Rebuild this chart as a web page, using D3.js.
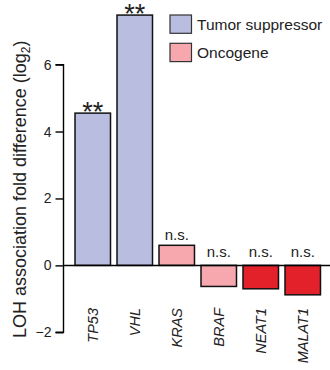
<!DOCTYPE html>
<html>
<head>
<meta charset="utf-8">
<script src="https://cdn.jsdelivr.net/npm/d3@7"></script>
<style>
  html, body { margin: 0; padding: 0; background: #fff; }
  svg { display: block; font-family: "Liberation Sans", Arial, sans-serif; }
</style>
</head>
<body>
<svg id="chart" width="330" height="370"></svg>
<script>
// Genes and their log2 fold difference in LOH association
const genes = ["TP53", "VHL", "KRAS", "BRAF", "NEAT1", "MALAT1"];
const foldDiff = [4.55, 7.48, 0.6, -0.63, -0.70, -0.88];
const geneClass = ["suppressor", "suppressor", "oncogene", "oncogene", "lnc", "lnc"];
const significance = ["**", "**", "n.s.", "n.s.", "n.s.", "n.s."];
const yTicks = [-2, 0, 2, 4, 6];
const legendLabels = ["Tumor suppressor", "Oncogene"];

const fillFor = { suppressor: "#b9bee1", oncogene: "#f6a8ae", lnc: "#e3212b" };
const legendKeys = ["suppressor", "oncogene"];

const svg = d3.select("#chart");

const x = d3.scaleBand()
  .domain(genes)
  .range([68.5, 327])
  .paddingInner(0.155)
  .paddingOuter(0.155);

const y = d3.scaleLinear()
  .domain([-2, 6])
  .range([332.3, 64.6]);

// y axis
const yAxis = d3.axisLeft(y)
  .tickValues(yTicks)
  .tickSize(8)
  .tickPadding(4)
  .tickFormat(d => d < 0 ? "\u2212" + Math.abs(d) : d);

const axisG = svg.append("g")
  .attr("transform", "translate(63.5,0)")
  .call(yAxis);
axisG.select(".domain").attr("stroke", "#000").attr("stroke-width", 1.4)
  .attr("d", `M-8,${y(6)}H0V${y(-2)}H-8`);
axisG.selectAll(".tick line").attr("stroke", "#000").attr("stroke-width", 1.4);
axisG.selectAll(".tick text")
  .attr("fill", "#222")
  .style("font-size", "14px")
  .style("font-family", "Liberation Sans, Arial, sans-serif");

// bars
const data = genes.map((g, i) => ({ gene: g, value: foldDiff[i], cls: geneClass[i], sig: significance[i] }));

svg.append("g").selectAll("rect")
  .data(data)
  .join("rect")
  .attr("x", d => x(d.gene))
  .attr("width", x.bandwidth())
  .attr("y", d => y(Math.max(0, d.value)))
  .attr("height", d => Math.abs(y(d.value) - y(0)))
  .attr("fill", d => fillFor[d.cls])
  .attr("stroke", "#111")
  .attr("stroke-width", 1.5);

// zero line
svg.append("line")
  .attr("x1", 63.5).attr("x2", 330)
  .attr("y1", y(0)).attr("y2", y(0))
  .attr("stroke", "#000").attr("stroke-width", 1.5);

// significance markers
svg.append("g").selectAll("text")
  .data(data)
  .join("text")
  .attr("x", d => x(d.gene) + x.bandwidth() / 2)
  .attr("y", d => d.sig === "**"
    ? y(d.value) + 8
    : (d.value > 0 ? y(d.value) - 5 : y(0) - 8))
  .attr("text-anchor", "middle")
  .attr("fill", "#222")
  .style("font-size", d => d.sig === "**" ? "27px" : "15px")
  .text(d => d.sig);

// gene labels
svg.append("g").selectAll("text")
  .data(data)
  .join("text")
  .attr("transform", d => `translate(${x(d.gene) + x.bandwidth() / 2 + 5},308) rotate(-90)`)
  .attr("text-anchor", "end")
  .attr("fill", "#222")
  .style("font-size", "14.5px")
  .style("font-style", "italic")
  .text(d => d.gene);

// y axis title
const title = svg.append("text")
  .attr("transform", "translate(25.5,338) rotate(-90)")
  .attr("text-anchor", "start")
  .attr("fill", "#222")
  .style("font-size", "18px");
title.append("tspan").text("LOH association fold difference (log");
title.append("tspan").attr("dy", 4).style("font-size", "12px").text("2");
title.append("tspan").attr("dy", -4).text(")");

// legend
const legend = svg.append("g").selectAll("g")
  .data(legendKeys)
  .join("g")
  .attr("transform", (d, i) => `translate(170,${15 + i * 28.3})`);
legend.append("rect")
  .attr("width", 21.5).attr("height", 18.3)
  .attr("fill", d => fillFor[d])
  .attr("stroke", "#333").attr("stroke-width", 1.2);
legend.append("text")
  .attr("x", 27).attr("y", 15)
  .attr("fill", "#222")
  .style("font-size", "15.5px")
  .text((d, i) => legendLabels[i]);
</script>
</body>
</html>
